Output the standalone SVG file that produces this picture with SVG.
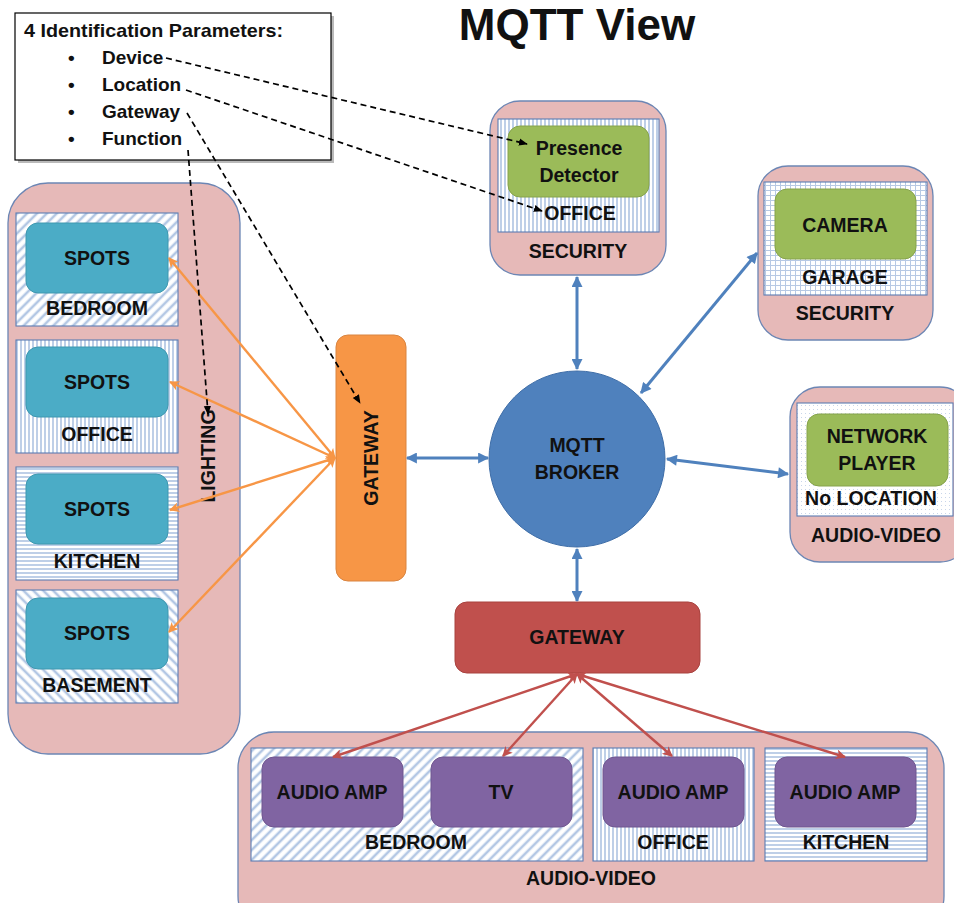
<svg xmlns="http://www.w3.org/2000/svg" width="954" height="903" viewBox="0 0 954 903">
  <defs>
    <style>
      text { font-family: "Liberation Sans", Arial, sans-serif; font-weight: bold; fill: #111; }
      .c { text-anchor: middle; }
      .lbl { font-size: 19.5px; }
      .area { fill: #e6b9b8; stroke: #6c86b4; stroke-width: 1.3; }
      .room { stroke: #5b7db3; stroke-width: 1.1; }
      .green { fill: #9bbb59; stroke: #86a34c; stroke-width: 1; }
      .teal { fill: #4bacc6; stroke: #3f98b0; stroke-width: 1; }
      .purple { fill: #8064a2; stroke: #6f5690; stroke-width: 1; }
      .dash { fill: none; stroke: #000; stroke-width: 1.7; stroke-dasharray: 6 4; marker-end: url(#ahBlack); }
      .orange { fill: none; stroke: #f79646; stroke-width: 2.4; marker-start: url(#ahOrange); marker-end: url(#ahOrange); }
      .blue { fill: none; stroke: #4f81bd; stroke-width: 3; marker-start: url(#ahBlue); marker-end: url(#ahBlue); }
      .red { fill: none; stroke: #c0504d; stroke-width: 2.4; marker-start: url(#ahRed); marker-end: url(#ahRed); }
    </style>
    <!-- hatch fills for the location boxes -->
    <pattern id="hVert" width="4" height="4" patternUnits="userSpaceOnUse">
      <rect width="4" height="4" fill="#fff"/>
      <line x1="1" y1="0" x2="1" y2="4" stroke="#aec3e2" stroke-width="1.6"/>
    </pattern>
    <pattern id="hHorz" width="4" height="4" patternUnits="userSpaceOnUse">
      <rect width="4" height="4" fill="#fff"/>
      <line x1="0" y1="1" x2="4" y2="1" stroke="#aec3e2" stroke-width="1.6"/>
    </pattern>
    <pattern id="hDiagDown" width="7" height="7" patternUnits="userSpaceOnUse" patternTransform="rotate(-45)">
      <rect width="7" height="7" fill="#fff"/>
      <line x1="0" y1="2" x2="7" y2="2" stroke="#b3c7e4" stroke-width="2.6"/>
    </pattern>
    <pattern id="hDiagUp" width="7" height="7" patternUnits="userSpaceOnUse" patternTransform="rotate(45)">
      <rect width="7" height="7" fill="#fff"/>
      <line x1="0" y1="2" x2="7" y2="2" stroke="#b3c7e4" stroke-width="2.6"/>
    </pattern>
    <pattern id="hGrid" width="5" height="5" patternUnits="userSpaceOnUse">
      <rect width="5" height="5" fill="#fff"/>
      <path d="M0 0.5H5M0.5 0V5" stroke="#b7c9e4" stroke-width="1"/>
    </pattern>
    <pattern id="hDots" width="4" height="4" patternUnits="userSpaceOnUse">
      <rect width="4" height="4" fill="#fff"/>
      <rect x="1" y="1" width="1" height="1" fill="#c9d6ea"/>
    </pattern>
    <marker id="ahBlack" viewBox="0 0 10 10" refX="9" refY="5" markerWidth="9" markerHeight="9" markerUnits="userSpaceOnUse" orient="auto">
      <path d="M0 1 L10 5 L0 9 Z" fill="#000"/>
    </marker>
    <marker id="ahOrange" viewBox="0 0 10 10" refX="9" refY="5" markerWidth="11" markerHeight="10" markerUnits="userSpaceOnUse" orient="auto-start-reverse">
      <path d="M0 0 L10 5 L0 10 L2.5 5 Z" fill="#f79646"/>
    </marker>
    <marker id="ahBlue" viewBox="0 0 10 10" refX="9" refY="5" markerWidth="12" markerHeight="11" markerUnits="userSpaceOnUse" orient="auto-start-reverse">
      <path d="M0 0 L10 5 L0 10 Z" fill="#4f81bd"/>
    </marker>
    <marker id="ahRed" viewBox="0 0 10 10" refX="9" refY="5" markerWidth="11" markerHeight="10" markerUnits="userSpaceOnUse" orient="auto-start-reverse">
      <path d="M0 0 L10 5 L0 10 L2.5 5 Z" fill="#c0504d"/>
    </marker>
  </defs>

  <rect width="954" height="903" fill="#fff"/>

  <text x="577" y="40" class="c" font-size="44">MQTT View</text>

  <!-- parameter legend -->
  <g id="legend">
    <rect x="18" y="16" width="316" height="147" fill="#8c8c8c" opacity="0.6"/>
    <rect x="15" y="13" width="316" height="147" fill="#fff" stroke="#000" stroke-width="1.2"/>
    <text x="24" y="37" font-size="19" textLength="259" lengthAdjust="spacingAndGlyphs">4 Identification Parameters:</text>
    <g font-size="19">
      <text x="68" y="64">•</text><text x="102" y="64">Device</text>
      <text x="68" y="91">•</text><text x="102" y="91">Location</text>
      <text x="68" y="118">•</text><text x="102" y="118">Gateway</text>
      <text x="68" y="145">•</text><text x="102" y="145">Function</text>
    </g>
  </g>

  <!-- lighting area -->
  <g id="lighting">
    <rect class="area" x="8" y="183" width="232" height="571" rx="40"/>
    <text transform="translate(215 456) rotate(-90)" class="c lbl">LIGHTING</text>
  </g>
  <g id="spots-bedroom">
    <rect class="room" x="16" y="213" width="162" height="113" fill="url(#hDiagDown)"/>
    <rect class="teal" x="26" y="223" width="142" height="70" rx="12"/>
    <text x="97" y="265" class="c lbl">SPOTS</text>
    <text x="97" y="315" class="c lbl">BEDROOM</text>
  </g>
  <g id="spots-office">
    <rect class="room" x="16" y="340" width="162" height="113" fill="url(#hVert)"/>
    <rect class="teal" x="26" y="347" width="142" height="70" rx="12"/>
    <text x="97" y="389" class="c lbl">SPOTS</text>
    <text x="97" y="441" class="c lbl">OFFICE</text>
  </g>
  <g id="spots-kitchen">
    <rect class="room" x="16" y="467" width="162" height="113" fill="url(#hHorz)"/>
    <rect class="teal" x="26" y="474" width="142" height="70" rx="12"/>
    <text x="97" y="516" class="c lbl">SPOTS</text>
    <text x="97" y="568" class="c lbl">KITCHEN</text>
  </g>
  <g id="spots-basement">
    <rect class="room" x="16" y="590" width="162" height="113" fill="url(#hDiagUp)"/>
    <rect class="teal" x="26" y="598" width="142" height="71" rx="12"/>
    <text x="97" y="640" class="c lbl">SPOTS</text>
    <text x="97" y="692" class="c lbl">BASEMENT</text>
  </g>

  <!-- lighting gateway -->
  <g id="gateway-lighting">
    <rect x="336" y="335" width="70" height="246" rx="12" fill="#f79646" stroke="#d98440" stroke-width="1"/>
    <text transform="translate(378 458) rotate(-90)" class="c lbl">GATEWAY</text>
  </g>

  <!-- presence detector -->
  <g id="security-office">
    <rect class="area" x="490" y="101" width="176" height="174" rx="30"/>
    <rect class="room" x="498" y="119" width="161" height="113" fill="url(#hVert)"/>
    <rect class="green" x="508" y="126" width="141" height="71" rx="12"/>
    <text x="579" y="155" class="c lbl">Presence</text>
    <text x="579" y="182" class="c lbl">Detector</text>
    <text x="580" y="220" class="c lbl">OFFICE</text>
    <text x="578" y="258" class="c lbl">SECURITY</text>
  </g>

  <!-- camera -->
  <g id="security-garage">
    <rect class="area" x="758" y="166" width="175" height="174" rx="30"/>
    <rect class="room" x="764" y="182" width="163" height="113" fill="url(#hGrid)"/>
    <rect class="green" x="775" y="189" width="141" height="70" rx="12"/>
    <text x="845" y="232" class="c lbl">CAMERA</text>
    <text x="845" y="284" class="c lbl">GARAGE</text>
    <text x="845" y="320" class="c lbl">SECURITY</text>
  </g>

  <!-- network player -->
  <g id="av-player">
    <rect class="area" x="790" y="387" width="180" height="175" rx="30"/>
    <rect class="room" x="797" y="403" width="156" height="113" fill="url(#hDots)"/>
    <rect class="green" x="807" y="414" width="141" height="72" rx="12"/>
    <text x="877" y="443" class="c lbl">NETWORK</text>
    <text x="877" y="470" class="c lbl">PLAYER</text>
    <text x="871" y="505" class="c lbl">No LOCATION</text>
    <text x="876" y="542" class="c lbl">AUDIO-VIDEO</text>
  </g>

  <!-- broker -->
  <g id="broker">
    <circle cx="577" cy="459" r="88" fill="#4f81bd" stroke="#3f6ea8" stroke-width="1"/>
    <text x="577" y="452" class="c lbl">MQTT</text>
    <text x="577" y="479" class="c lbl">BROKER</text>
  </g>

  <!-- audio-video gateway -->
  <g id="gateway-av">
    <rect x="455" y="602" width="245" height="71" rx="12" fill="#c0504d" stroke="#a8423f" stroke-width="1"/>
    <text x="577" y="644" class="c lbl">GATEWAY</text>
  </g>

  <!-- audio-video area -->
  <g id="audio-video">
    <rect class="area" x="238" y="732" width="706" height="200" rx="36"/>
    <text x="591" y="885" class="c lbl">AUDIO-VIDEO</text>
  </g>
  <g id="av-bedroom">
    <rect class="room" x="251" y="748" width="332" height="113" fill="url(#hDiagDown)"/>
    <rect class="purple" x="262" y="757" width="141" height="70" rx="12"/>
    <rect class="purple" x="431" y="757" width="141" height="70" rx="12"/>
    <text x="332" y="799" class="c lbl">AUDIO AMP</text>
    <text x="501" y="799" class="c lbl">TV</text>
    <text x="416" y="849" class="c lbl">BEDROOM</text>
  </g>
  <g id="av-office">
    <rect class="room" x="593" y="748" width="161" height="113" fill="url(#hVert)"/>
    <rect class="purple" x="603" y="757" width="141" height="70" rx="12"/>
    <text x="673" y="799" class="c lbl">AUDIO AMP</text>
    <text x="673" y="849" class="c lbl">OFFICE</text>
  </g>
  <g id="av-kitchen">
    <rect class="room" x="765" y="748" width="162" height="113" fill="url(#hHorz)"/>
    <rect class="purple" x="775" y="757" width="141" height="70" rx="12"/>
    <text x="845" y="799" class="c lbl">AUDIO AMP</text>
    <text x="846" y="849" class="c lbl">KITCHEN</text>
  </g>

  <!-- connectors -->
  <g id="connectors">
    <line class="orange" x1="335" y1="458" x2="169" y2="258"/>
    <line class="orange" x1="335" y1="458" x2="170" y2="382"/>
    <line class="orange" x1="335" y1="458" x2="170" y2="510"/>
    <line class="orange" x1="335" y1="458" x2="169" y2="632"/>

    <line class="blue" x1="407" y1="458" x2="488" y2="458"/>
    <line class="blue" x1="577" y1="369" x2="577" y2="277"/>
    <line class="blue" x1="641" y1="393" x2="757" y2="253"/>
    <line class="blue" x1="667" y1="459" x2="788" y2="474"/>
    <line class="blue" x1="577" y1="549" x2="577" y2="601"/>

    <line class="red" x1="577" y1="674" x2="333" y2="757"/>
    <line class="red" x1="577" y1="674" x2="503" y2="756"/>
    <line class="red" x1="577" y1="674" x2="672" y2="756"/>
    <line class="red" x1="577" y1="674" x2="845" y2="757"/>

    <line class="dash" x1="166" y1="58" x2="527" y2="144"/>
    <line class="dash" x1="186" y1="90" x2="542" y2="211"/>
    <line class="dash" x1="187" y1="113" x2="360" y2="403"/>
    <line class="dash" x1="188" y1="150" x2="208" y2="414"/>
  </g>
</svg>
